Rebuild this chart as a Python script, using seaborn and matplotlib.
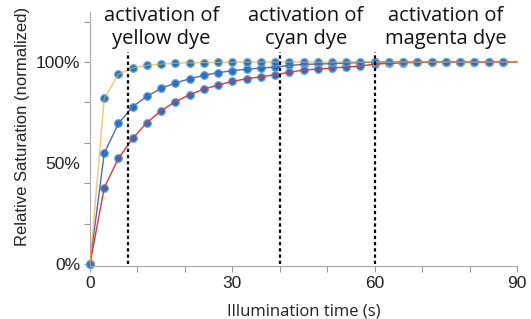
import numpy as np
import pandas as pd
import matplotlib
matplotlib.use("Agg")
import matplotlib.pyplot as plt
import seaborn as sns

# illumination time (s), one sample every 3 s
time_s = list(range(0, 91, 3))

yellow = [0, .82, .94, .97, .983, .99, .994, .996, .997, .998, .999] + [1.0] * 20
blue = [0, .548, .696, .779, .83, .87, .896, .917, .934, .947, .957, .964, .97,
        .975, .983, .988, .99, .992, .995, .997] + [1.0] * 11
red = [0, .378, .523, .622, .70, .759, .804, .838, .866, .886, .904, .917, .927,
       .937, .949, .96, .965, .97, .975, .98, .99, .993, .996, .998] + [1.0] * 7

activation_t = [8, 40, 60]
activation_labels = ["activation of\nyellow dye", "activation of\ncyan dye", "activation of\nmagenta dye"]
label_x = [15, 45.5, 75]

df = pd.DataFrame({"t": time_s, "yellow": yellow, "blue": blue, "red": red})

sns.set_style("ticks")
plt.rcParams["font.family"] = ["Liberation Sans", "DejaVu Sans"]

fig = plt.figure(figsize=(5.31, 3.19), dpi=100)
ax = fig.add_axes([90 / 531, 1 - 266 / 319, 427 / 531, 254.5 / 319])

line_styles = [("blue", "#5468c0", 1.0, 2), ("red", "#e8333b", 1.0, 3), ("yellow", "#f0b024", 0.7, 4)]
for col, color, alpha, z in line_styles:
    # markers first, line on top
    sns.scatterplot(data=df.iloc[:-1], x="t", y=col, ax=ax, s=30, color="#1f70c0",
                    edgecolor="#5fa8e6", linewidth=0.9, zorder=1, clip_on=False)
    sns.lineplot(data=df, x="t", y=col, ax=ax, color=color, alpha=alpha, lw=1.0,
                 zorder=z, clip_on=False)

for t in activation_t:
    ax.plot([t, t], [0, 1.05], color="black", lw=1.6, ls=(0, (1.5, 1.3)), zorder=5)

for x, txt in zip(label_x, activation_labels):
    ax.text(x, 1.172, txt, ha="center", va="center", fontsize=14.5, family="Open Sans",
            linespacing=1.2, color="#111111")

ax.set_xlim(0, 90)
ax.set_ylim(-0.01, 1.25)
ax.set_xticks(range(0, 91, 10))
ax.set_xticklabels(["0", "", "", "30", "", "", "60", "", "", "90"])
ax.set_yticks([0, .2, .4, .6, .8, 1.0, 1.2])
ax.set_yticklabels(["0%", "", "", "", "", "100%", ""])
ax.set_yticks([0.5], minor=True)
ax.set_yticklabels(["50%"], minor=True)
ax.tick_params(axis="both", which="major", direction="out", length=4, width=0.8,
               color="#999999", labelsize=12.5, labelcolor="#222222", pad=3)
ax.tick_params(axis="y", which="minor", length=0, labelsize=12.5, labelcolor="#222222", pad=7)

ax.set_xlabel("Illumination time (s)", family="Open Sans", fontsize=12, color="#222222", labelpad=9)
ax.set_ylabel("Relative Saturation (normalized)", fontsize=12, color="#222222")
ax.yaxis.set_label_coords(-0.14, 0.55)

for side in ["top", "right"]:
    ax.spines[side].set_visible(False)
for side in ["left", "bottom"]:
    ax.spines[side].set_color("#aaaaaa")
    ax.spines[side].set_linewidth(0.8)
ax.grid(False)

fig.savefig("out.png", dpi=100)
